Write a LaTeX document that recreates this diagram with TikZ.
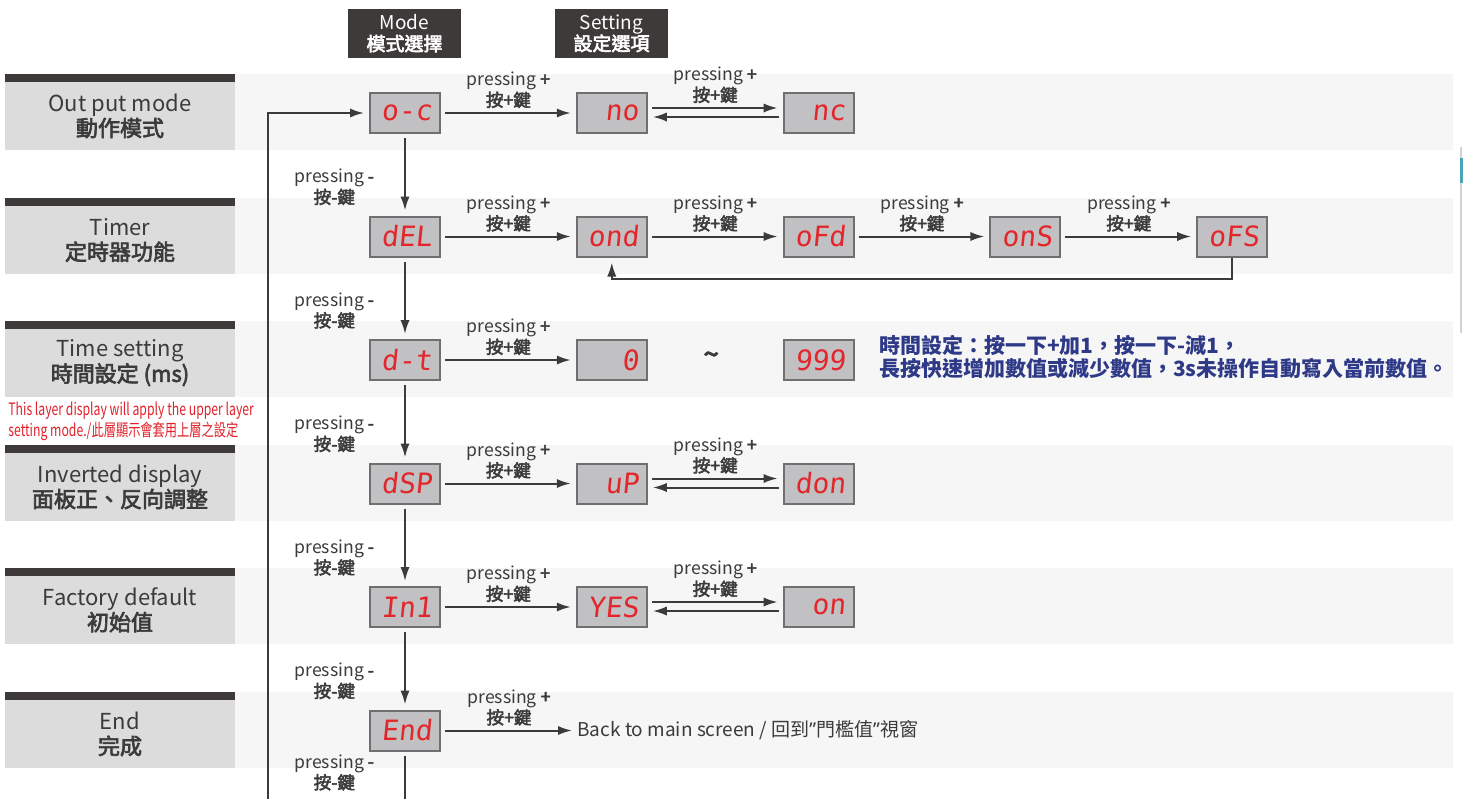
\documentclass[tikz,border=0pt]{standalone}
\usepackage{fontspec}
\setmainfont{Noto Sans CJK TC}
\newfontfamily\medfont[FakeBold=3]{Noto Sans CJK TC}
\newfontfamily\notefont[FakeStretch=0.72]{Noto Sans CJK TC}
\newfontfamily\quotefont{Noto Sans}
\newfontfamily\segfont[FakeSlant=0.1]{DejaVu Sans Mono}
\newcommand{\mtext}[1]{{\medfont #1}}
\usetikzlibrary{arrows.meta,positioning,calc}

\definecolor{band}{HTML}{F6F6F6}
\definecolor{tabgray}{HTML}{DCDCDD}
\definecolor{tabdark}{HTML}{3D3A39}
\definecolor{ink}{HTML}{3B3B3B}
\definecolor{segred}{HTML}{E3262B}
\definecolor{lcd}{HTML}{C1C1C3}
\definecolor{lcdedge}{HTML}{6F6F6F}
\definecolor{noteblue}{HTML}{2E3A87}
\definecolor{notered}{HTML}{E2212B}
\definecolor{barteal}{HTML}{4AA3B8}

\begin{document}
\begin{tikzpicture}[x=0.5pt, y=-0.5pt,
      disp/.style={rectangle, draw=lcdedge, line width=1pt, fill=lcd, minimum width=35pt,
                   minimum height=20pt, inner sep=0pt, text width=27pt, align=right,
                   text=segred, font=\segfont\fontsize{14}{14}\selectfont},
      tab/.style={rectangle, fill=tabgray, minimum width=115pt, minimum height=34pt,
                  align=center, text=ink, font=\fontsize{11}{12.5}\selectfont},
      hdr/.style={rectangle, fill=tabdark, minimum width=56.5pt, minimum height=24.5pt,
                  align=center, text=white, inner sep=0pt, font=\fontsize{9.5}{10.5}\selectfont},
      lbl/.style={align=center, text=ink, inner sep=1pt, font=\fontsize{8.8}{10.5}\selectfont},
      arr/.style={-{Latex[length=7pt,width=4.6pt]}, line width=1pt, draw=ink,
                  shorten <=2pt, shorten >=2.5pt},
      line/.style={line width=1pt, draw=ink, shorten <=2pt}]

    \useasboundingbox[fill=white] (0,0) rectangle (1464,799);

    % bands and row titles
    \foreach \yt/\tn/\ttext in {74/tout/{Out put mode\\\mtext{動作模式}},
        198/ttimer/{Timer\\\mtext{定時器功能}},
        321/tset/{Time setting\\\mtext{時間設定 (ms)}},
        445/tinv/{Inverted display\\\mtext{面板正、反向調整}},
        568/tfac/{Factory default\\\mtext{初始值}},
        692/tend/{End\\\mtext{完成}}}{
      \fill[band] (235,\yt) rectangle (1453,\yt+76);
      \fill[tabdark] (5,\yt) rectangle (235,\yt+8);
      \node[tab] (\tn) at (120,\yt+42) {\ttext};
    }

    \node[hdr] (hmode) at (404.5,33.5) {Mode\\\mtext{模式選擇}};
    \node[hdr] (hset) at (611.5,33.5) {Setting\\\mtext{設定選項}};

    % displays
    \node[disp] (oc) at (405,113) {o-c};
    \node[disp, right=67.4pt of oc] (no) {no};
    \node[disp, right=67.4pt of no] (nc) {nc};
    \node[disp, below=40.75pt of oc] (del) {dEL};
    \node[disp, right=67.4pt of del] (ond) {ond};
    \node[disp, right=67.4pt of ond] (ofd) {oFd};
    \node[disp, right=67.4pt of ofd] (ons) {onS};
    \node[disp, right=67.4pt of ons] (ofs) {oFS};
    \node[disp, below=40.75pt of del] (dt) {d-t};
    \node[disp, right=67.4pt of dt] (zero) {0};
    \node[disp, right=67.4pt of zero] (n999) {999};
    \node[disp, below=40.75pt of dt] (dsp) {dSP};
    \node[disp, right=67.4pt of dsp] (up) {uP};
    \node[disp, right=67.4pt of up] (don) {don};
    \node[disp, below=40.75pt of dsp] (ini) {In1};
    \node[disp, right=67.4pt of ini] (yes) {YES};
    \node[disp, right=67.4pt of yes] (on) {on};
    \node[disp, below=40.75pt of ini] (end) {End};

    % mode chain
    \foreach \a/\b in {oc/del, del/dt, dt/dsp, dsp/ini, ini/end}
      \draw[arr] (\a) -- (\b) node[lbl, pos=0.65, left=14pt] {pressing \mtext{-}\\\mtext{按-鍵}};
    \coordinate (bot) at (405,799);
    \draw[line] (end) -- (bot) node[lbl, pos=0.44, left=14pt] {pressing \mtext{-}\\\mtext{按-鍵}};
    \coordinate (loop) at (268,799);
    \draw[arr, shorten <=0pt] (loop) |- (oc);

    % settings
    \foreach \a/\b in {oc/no, del/ond, ond/ofd, ofd/ons, ons/ofs, dt/zero, dsp/up, ini/yes}
      \draw[arr] (\a) -- (\b) node[lbl, midway, above=1pt] {pressing \mtext{+}\\\mtext{按+鍵}};
    \foreach \a/\b in {no/nc, up/don, yes/on}{
      \draw[arr] ([yshift=2.5pt]\a.east) -- ([yshift=2.5pt]\b.west)
        node[lbl, midway, above=1pt] {pressing \mtext{+}\\\mtext{按+鍵}};
      \draw[arr] ([yshift=-2pt]\b.west) -- ([yshift=-2pt]\a.east);
    }
    \draw[arr, shorten <=0pt] (ofs.south) -- ++(0,21) -| (ond.south);

    \node[text=ink, font=\medfont\fontsize{14}{14}\selectfont, xshift=-2pt, yshift=1pt] (tilde)
      at ($(zero)!0.5!(n999)$) {\textasciitilde};
    \node[right=12pt of n999, yshift=1.5pt, align=left, inner sep=0pt, text=noteblue,
          font=\bfseries\fontsize{10.5}{11.5}\selectfont] (note)
      {時間設定：按一下+加1，按一下-減1，\\長按快速增加數值或減少數值，3s未操作自動寫入當前數值。};

    \node[right=68pt of end, inner sep=0pt, text=ink, font=\fontsize{9.5}{10}\selectfont] (back)
      {Back to main screen / 回到{\quotefont ”}門檻值{\quotefont ”}視窗};
    \draw[arr] (end) -- (back) node[lbl, midway, above=1pt] {pressing \mtext{+}\\\mtext{按+鍵}};

    \node[anchor=north west, align=left, inner sep=0pt, text=notered,
          font=\notefont\fontsize{8.5}{9}\selectfont] (layernote) at (8,402)
      {This layer display will apply the upper layer\\setting mode./此層顯示會套用上層之設定};

    % window edge
    \fill[gray!35] (1460,147) rectangle (1462,333);
    \fill[barteal] (1460,158) rectangle (1463,183);
  \end{tikzpicture}
\end{document}
